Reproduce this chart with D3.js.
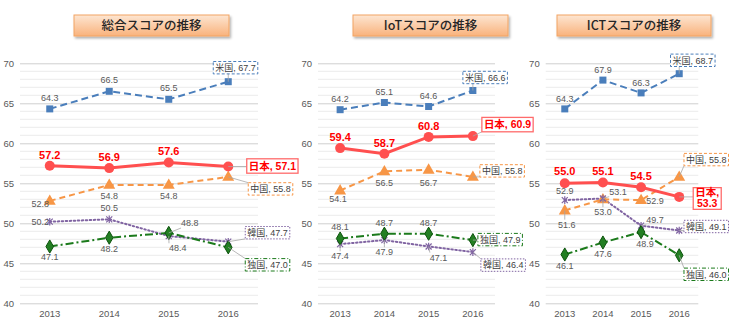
<!DOCTYPE html>
<html><head><meta charset="utf-8">
<script src="https://cdn.jsdelivr.net/npm/d3@7"></script>
<style>body{margin:0;background:#fff}svg{display:block}</style>
</head><body>
<svg id="c" width="730" height="329"></svg>
<script>
// ---------------- data ----------------
const years = ["2013","2014","2015","2016"];
const yTicks = [40,45,50,55,60,65,70];
const seriesNames = ["米国","日本","中国","韓国","独国"];
const panelTitles = ["総合スコアの推移","IoTスコアの推移","ICTスコアの推移"];

const totalUS = [64.3,66.5,65.5,67.7];
const totalJP = [57.2,56.9,57.6,57.1];
const totalCN = [52.8,54.8,54.8,55.8];
const totalKR = [50.2,50.5,48.4,47.7];
const totalDE = [47.1,48.2,48.8,47.0];

const iotUS = [64.2,65.1,64.6,66.6];
const iotJP = [59.4,58.7,60.8,60.9];
const iotCN = [54.1,56.5,56.7,55.8];
const iotKR = [47.4,47.9,47.1,46.4];
const iotDE = [48.1,48.7,48.7,47.9];

const ictUS = [64.3,67.9,66.3,68.7];
const ictJP = [55.0,55.1,54.5,53.3];
const ictCN = [51.6,53.0,52.9,55.8];
const ictKR = [52.9,53.1,49.7,49.1];
const ictDE = [46.1,47.6,48.9,46.0];

const panelSeries = [
  [totalUS,totalJP,totalCN,totalKR,totalDE],
  [iotUS,iotJP,iotCN,iotKR,iotDE],
  [ictUS,ictJP,ictCN,ictKR,ictDE]
];

// ---------------- styles ----------------
const styles = [
  {color:"#4a7ebb", dash:"7,4", w:2, marker:"square", boxDash:"3,2"},
  {color:"#ff4f4f", dash:null, w:3, marker:"circle", boxDash:null},
  {color:"#f79646", dash:"6,4", w:2, marker:"triangle", boxDash:"3,2"},
  {color:"#8064a2", dash:"1.5,2.5", w:2, marker:"star", boxDash:"1.5,1.5"},
  {color:"#1b7a1b", dash:"8,3,2,3", w:2, marker:"diamond", boxDash:"4,2,1,2"}
];
const drawOrder = [0,2,3,4,1];

// ---------------- layout (positions only) ----------------
const layout = [
  { gx:[20,258], title:[74,229],
    labels:[
      [[0,-11],[0,-11],[0,-11]],
      [[0,-11],[0,-11],[0,-11]],
      [[-9.5,3],[0,11],[0,11]],
      [[-9.5,0],[0,-11],[9,12,1]],
      [[0,10.5],[0,11],[21,-10,1]]
    ],
    ends:[[-15,-14],[18.5,-0.5],[20,12],[17,-9],[17,17.5]]
  },
  { gx:[318,495], title:[353,508],
    labels:[
      [[0,-10.5],[0,-10.5],[0,-10.5]],
      [[0,-10.5],[0,-10.5],[0,-10.5]],
      [[-2,8.5],[0,12],[0,13]],
      [[0,12,1],[0,12,1],[10,11,1]],
      [[0,-11.5],[0,-11],[0,-11]]
    ],
    ends:[[-10,-13],[9,-11.5],[7,-6],[8,13],[5,-0.5]]
  },
  { gx:[545.7,698.3], title:[557,711],
    labels:[
      [[0,-10],[0,-10.5],[0,-10.5]],
      [[0,-12],[0,-11.5],[0,-11]],
      [[2,14,1],[0,12.7,1],[14,1]],
      [[0,-9],[15,-7,1],[14,-6,1]],
      [[0,11],[0,11.3],[4,11.5]]
    ],
    ends:[[-8.7,-13.4],[14,1.6,1],[8.3,-17.3],[10,-4],[8.3,19]]
  }
];

const FONT = "'Liberation Sans Narrow','Arial Narrow','Liberation Sans',Arial,'Noto Sans CJK JP',sans-serif";
const CJK = "'Noto Sans CJK JP','Noto Sans CJK SC',sans-serif";

const svg = d3.select("#c");
const defs = svg.append("defs");
const grad = defs.append("linearGradient").attr("id","tg").attr("x1",0).attr("y1",0).attr("x2",0).attr("y2",1);
grad.append("stop").attr("offset","0%").attr("stop-color","#fde6d2");
grad.append("stop").attr("offset","100%").attr("stop-color","#f9b27c");
const flt = defs.append("filter").attr("id","sh").attr("x","-10%").attr("y","-40%").attr("width","130%").attr("height","200%");
flt.append("feDropShadow").attr("dx",1.5).attr("dy",2).attr("stdDeviation",1.2).attr("flood-color","#000").attr("flood-opacity",0.3);

const y = d3.scaleLinear().domain([40,70]).range([303.3,63.3]);

function markerPath(type){
  if(type==="star") return "M-3,-3L3,3M-3,3L3,-3M0,-3.8L0,3.8";
  if(type==="triangle") return d3.symbol(d3.symbolTriangle, 62)();
  if(type==="diamond") return d3.symbol(d3.symbolDiamond, 50)();
  return null;
}

function nearestOnRect(px,py,r){
  const nx = Math.max(r.x, Math.min(px, r.x+r.width));
  const ny = Math.max(r.y, Math.min(py, r.y+r.height));
  return [nx,ny];
}

layout.forEach((L,pi)=>{
  const g = svg.append("g");
  const x = d3.scaleBand().domain(years).range(L.gx).padding(0);
  const cx = yr => x(yr) + x.bandwidth()/2;
  const W = L.gx[1]-L.gx[0];

  // minor gridlines
  const minor = d3.range(41,70).filter(v=>v%5!==0);
  g.append("g").selectAll("line").data(minor).join("line")
    .attr("x1",L.gx[0]).attr("x2",L.gx[1])
    .attr("y1",d=>y(d)).attr("y2",d=>y(d))
    .attr("stroke","#ececec").attr("stroke-width",1);

  // y axis with major gridlines
  const ya = g.append("g").attr("transform",`translate(${L.gx[0]},0)`)
    .call(d3.axisLeft(y).tickValues(yTicks).tickSize(-W).tickPadding(6).tickFormat(d3.format("d")));
  ya.select(".domain").remove();
  ya.selectAll(".tick line").attr("stroke","#cfcfcf");
  ya.selectAll(".tick text").attr("font-family",FONT).attr("font-size",9.5).attr("fill","#595959");

  // x axis
  const xa = g.append("g").attr("transform",`translate(0,${y(40)})`)
    .call(d3.axisBottom(x).tickSize(0).tickPadding(6.5));
  xa.select(".domain").remove();
  xa.selectAll(".tick text").attr("font-family",FONT).attr("font-size",9.5).attr("fill","#595959");

  // title
  const [tx0,tx1] = L.title;
  g.append("rect").attr("x",tx0).attr("y",15).attr("width",tx1-tx0).attr("height",21)
    .attr("fill","url(#tg)").attr("stroke","#f2a463").attr("stroke-width",1).attr("filter","url(#sh)");
  g.append("text").attr("x",(tx0+tx1)/2).attr("y",25.8).attr("dy","0.35em")
    .attr("text-anchor","middle").attr("font-family",CJK).attr("font-size",12.5).attr("font-weight",500)
    .attr("fill","#262626").text(panelTitles[pi]);

  const data = panelSeries[pi];
  const lineG = g.append("g"), markG = g.append("g"), leadG = g.append("g"), labG = g.append("g");

  drawOrder.forEach(si=>{
    const st = styles[si], vals = data[si];
    const line = d3.line().x((d,i)=>cx(years[i])).y(d=>y(d));
    lineG.append("path").attr("d",line(vals)).attr("fill","none")
      .attr("stroke",st.color).attr("stroke-width",st.w)
      .attr("stroke-dasharray",st.dash).attr("stroke-linecap", si===3?"round":"butt");
    vals.forEach((v,i)=>{
      const px = cx(years[i]), py = y(v);
      if(st.marker==="square"){
        markG.append("rect").attr("x",px-3.5).attr("y",py-3.5).attr("width",7).attr("height",7).attr("fill",st.color);
      } else if(st.marker==="circle"){
        markG.append("circle").attr("cx",px).attr("cy",py).attr("r",5).attr("fill",st.color);
      } else if(st.marker==="star"){
        markG.append("path").attr("d",markerPath("star")).attr("transform",`translate(${px},${py})`)
          .attr("stroke",st.color).attr("stroke-width",1.2).attr("fill","none");
      } else if(st.marker==="triangle"){
        markG.append("path").attr("d",markerPath("triangle")).attr("transform",`translate(${px},${py+0.5})`).attr("fill",st.color);
      } else {
        markG.append("path").attr("d",markerPath("diamond")).attr("transform",`translate(${px},${py})`)
          .attr("fill","#237f23").attr("stroke","#0c520c").attr("stroke-width",1);
      }
    });
  });

  // point labels
  data.forEach((vals,si)=>{
    const st = styles[si];
    const isJP = si===1;
    L.labels[si].forEach((lp,i)=>{
      const v = vals[i];
      const px = cx(years[i]), py = y(v);
      const t = labG.append("text").attr("x",px+lp[0]).attr("y",py+lp[1]).attr("dy","0.35em")
        .attr("text-anchor","middle").attr("font-family",FONT)
        .attr("font-size",isJP?11:9).attr("font-weight",isJP?"bold":"normal")
        .attr("fill",isJP?"#ff0000":"#595959").text(d3.format(".1f")(v));
      if(lp[2]){
        const bb = t.node().getBBox();
        const [nx,ny] = nearestOnRect(px,py,bb);
        leadG.append("line").attr("x1",px).attr("y1",py).attr("x2",nx).attr("y2",ny)
          .attr("stroke","#a6a6a6").attr("stroke-width",0.8);
      }
    });

    // end label box
    const e = L.ends[si];
    const v = vals[3], px = cx(years[3]), py = y(v);
    const label = seriesNames[si] + ", " + d3.format(".1f")(v);
    const fs = isJP?10.5:9;
    const t = labG.append("text").attr("font-family",FONT).attr("font-size",fs)
      .attr("font-weight",isJP?"bold":"normal").attr("fill",isJP?"#ff0000":"#404040");
    let bw, bh, left = px+e[0];
    const pad = isJP?2:2;
    if(e[2]){
      t.append("tspan").attr("x",0).attr("dy",0).text(seriesNames[si]+",");
      t.append("tspan").attr("x",0).attr("dy","1.05em").text(d3.format(".1f")(v));
      const bb = t.node().getBBox();
      bw = bb.width + 2*pad; bh = 21.7;
      const top = py + e[1] - bh/2;
      t.attr("text-anchor","middle");
      t.selectAll("tspan").attr("x", left + bw/2);
      t.attr("y", top + 8.5);
      t.select("tspan").attr("y", top + 8.5);
    } else {
      t.text(label);
      const w = t.node().getComputedTextLength();
      bw = w + 2*pad; bh = isJP?14.4:12.4;
      if(left + bw > 728.5) left = 728.5 - bw;
      t.attr("x", left+pad).attr("y", py+e[1]).attr("dy","0.36em");
    }
    const rect = {x:left, y:py+e[1]-bh/2, width:bw, height:bh};
    labG.insert("rect","text").attr("x",rect.x).attr("y",rect.y).attr("width",rect.width).attr("height",rect.height)
      .attr("fill","#fff").attr("stroke",isJP?"#ff6b6b":st.color).attr("stroke-width",isJP?1.3:1)
      .attr("stroke-dasharray",st.boxDash);
    const [nx,ny] = nearestOnRect(px,py,rect);
    if(Math.hypot(nx-px,ny-py)>2){
      leadG.append("line").attr("x1",px).attr("y1",py).attr("x2",nx).attr("y2",ny)
        .attr("stroke","#a6a6a6").attr("stroke-width",0.8);
    }
  });
});
</script>
</body></html>
